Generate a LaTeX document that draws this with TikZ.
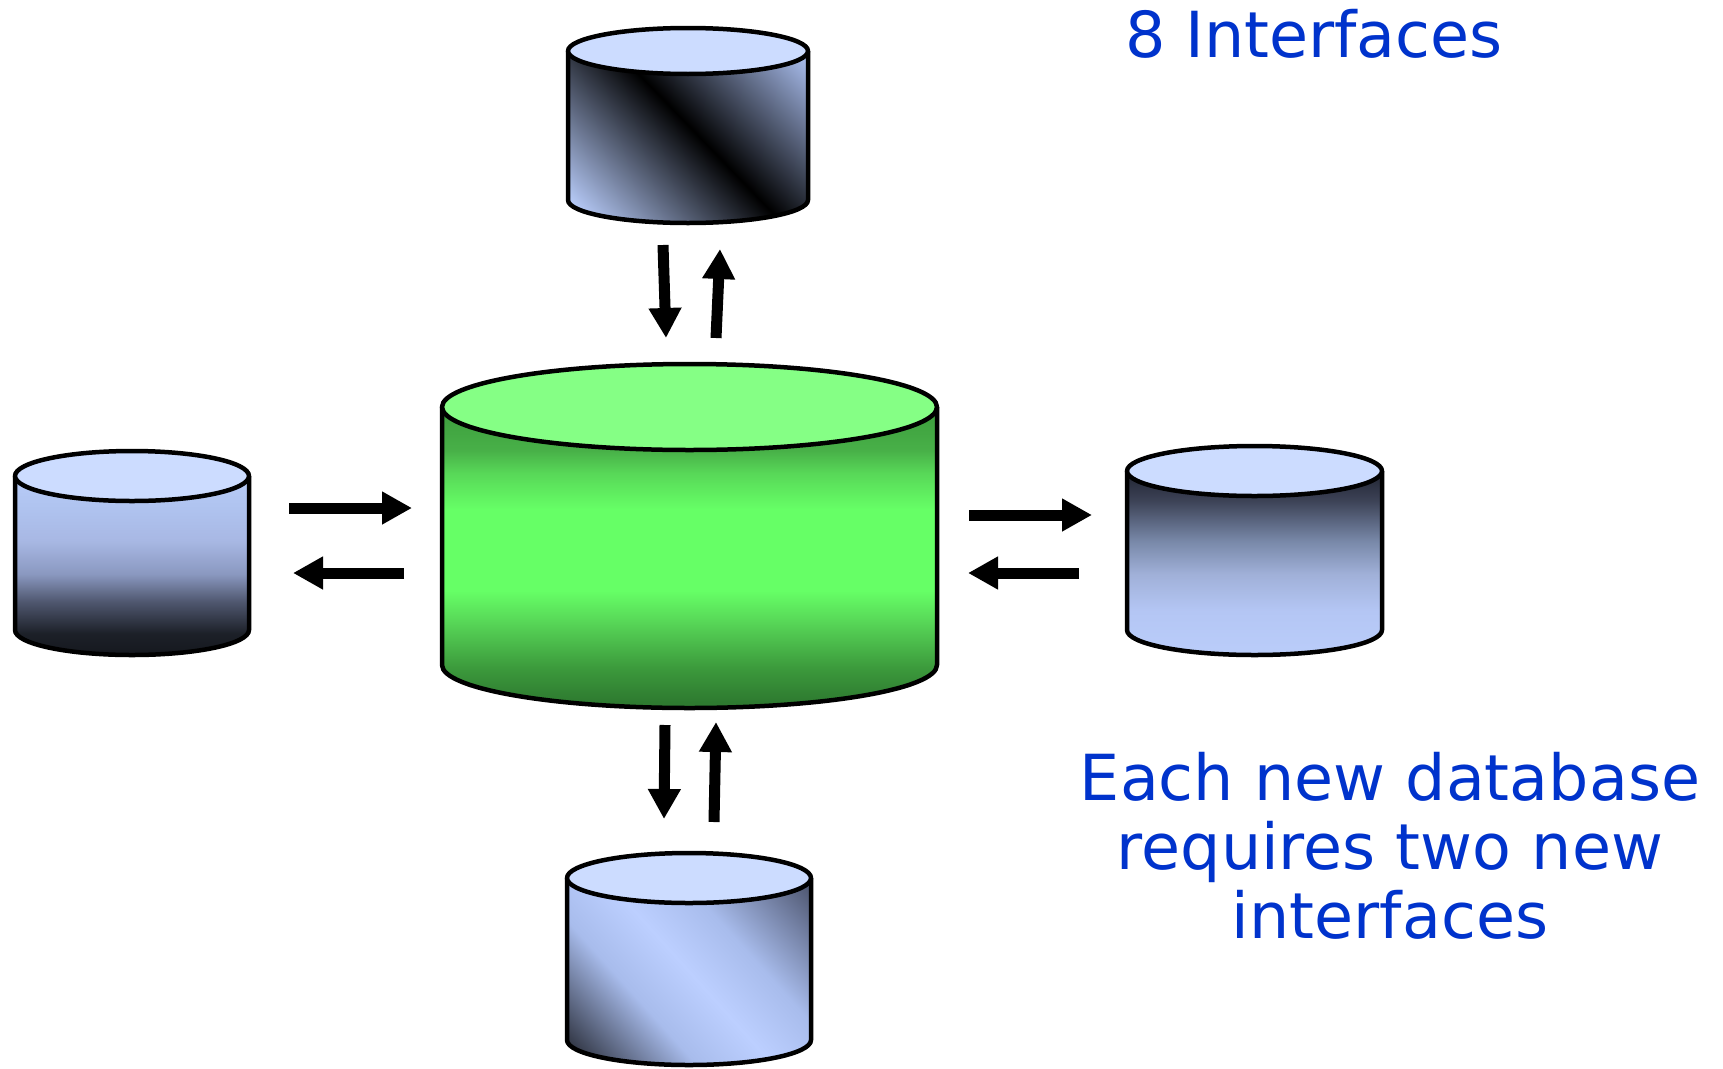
\documentclass[tikz,border=0pt]{standalone}
\usepackage{fontspec}
\setmainfont{DejaVu Sans}
\usetikzlibrary{arrows.meta}
\definecolor{txtblue}{HTML}{0033CC}
\definecolor{btop}{HTML}{CCDCFF}
\definecolor{gtop}{HTML}{85FF85}
% green body
\definecolor{ga}{HTML}{2E7A30}
\definecolor{gb}{HTML}{3C9A3C}
\definecolor{gc}{HTML}{58D858}
\definecolor{gd}{HTML}{66FF66}
\definecolor{ge}{HTML}{48B048}
\definecolor{gf}{HTML}{3C9C3C}
% blue tones
\definecolor{la}{HTML}{15181E}
\definecolor{lb}{HTML}{1C2028}
\definecolor{lc}{HTML}{505870}
\definecolor{ld}{HTML}{8A98C0}
\definecolor{le}{HTML}{A8B8E4}
\definecolor{lf}{HTML}{B0C4F0}
\definecolor{lg}{HTML}{B8CCF8}
\definecolor{ra}{HTML}{BACDFA}
\definecolor{rb}{HTML}{B4C6F4}
\definecolor{rc}{HTML}{A0B0D8}
\definecolor{rd}{HTML}{7888A8}
\definecolor{re}{HTML}{3C4256}
\definecolor{rf}{HTML}{202430}
\definecolor{tl}{HTML}{B8CCFA}
\definecolor{tr}{HTML}{A8BCEC}
\definecolor{bk}{HTML}{000000}
\definecolor{bdk}{HTML}{2A2E3A}
\definecolor{bmid}{HTML}{A8BCEC}
\definecolor{bli}{HTML}{BCCFFF}
\definecolor{btr}{HTML}{4E5670}
\pgfdeclareverticalshading{greenbody}{100bp}{color(0bp)=(ga); color(26bp)=(ga); color(31.7bp)=(gb); color(39.5bp)=(gc); color(44.5bp)=(gd); color(58bp)=(gd); color(64bp)=(gc); color(67.8bp)=(ge); color(75bp)=(gf); color(100bp)=(gf)}
\pgfdeclareverticalshading{leftbody}{100bp}{color(0bp)=(la); color(25bp)=(la); color(31bp)=(lb); color(40bp)=(lc); color(47.6bp)=(ld); color(57bp)=(le); color(67bp)=(lf); color(75bp)=(lg); color(100bp)=(lg)}
\pgfdeclareverticalshading{rightbody}{100bp}{color(0bp)=(ra); color(25bp)=(ra); color(37bp)=(rb); color(47bp)=(rc); color(56bp)=(rd); color(67bp)=(re); color(75bp)=(rf); color(100bp)=(rf)}
\pgfdeclareverticalshading{topbody}{100bp}{color(0bp)=(tl); color(18bp)=(tl); color(52bp)=(bk); color(84bp)=(tr); color(100bp)=(tr)}
\pgfdeclareverticalshading{bottombody}{100bp}{color(0bp)=(bdk); color(17bp)=(bdk); color(37bp)=(bmid); color(50bp)=(bli); color(63bp)=(bmid); color(84bp)=(btr); color(100bp)=(btr)}
% cx, top y, bottom y, rx, ry, shading, shading angle, top colour
\newcommand{\dbcyl}[8]{%
  \shade[shading=#6, shading angle=#7] (#1-#4,#2) -- (#1-#4,#3) arc[start angle=180, end angle=360, x radius=#4pt, y radius=#5pt] -- (#1+#4,#2) -- cycle;
  \draw[outl] (#1-#4,#2) -- (#1-#4,#3) arc[start angle=180, end angle=360, x radius=#4pt, y radius=#5pt] -- (#1+#4,#2);
  \draw[outl, fill=#8] (#1,#2) ellipse[x radius=#4pt, y radius=#5pt];
}
\begin{document}
\begin{tikzpicture}[x=1pt, y=-1pt,
  outl/.style={draw=black, line width=4.5pt, line join=round},
  flow/.style={line width=11pt, -{Triangle[length=30pt, width=31pt]}},
  txt/.style={text=txtblue, font=\fontsize{63.5pt}{69pt}\selectfont}]
\path[use as bounding box, fill=white] (0,0) rectangle (1723,1068);

% databases
\coordinate (central) at (689.5,536);
\coordinate (dbtop) at (688,137);
\coordinate (dbleft) at (132,564);
\coordinate (dbright) at (1254.5,562);
\coordinate (dbbottom) at (689,970);

\dbcyl{688}{51}{200}{120}{23}{topbody}{-46}{btop}
\dbcyl{132}{476}{630}{117}{25}{leftbody}{0}{btop}
\dbcyl{1254.5}{471}{630}{127.5}{25}{rightbody}{0}{btop}
\dbcyl{689}{878}{1040}{122}{25}{bottombody}{-48}{btop}
\dbcyl{689.5}{407}{665}{247.5}{43}{greenbody}{0}{gtop}

% arrow end points
\coordinate (LtA) at (289,508);  \coordinate (LtB) at (412,508);
\coordinate (LbA) at (404,573);  \coordinate (LbB) at (293,573);
\coordinate (RtA) at (969,515);  \coordinate (RtB) at (1092,515);
\coordinate (RbA) at (1079,573); \coordinate (RbB) at (968,573);
\coordinate (TdA) at (663,245);  \coordinate (TdB) at (666,338);
\coordinate (TuA) at (716,338);  \coordinate (TuB) at (720,249);
\coordinate (BdA) at (665,725);  \coordinate (BdB) at (664,819);
\coordinate (BuA) at (714,822);  \coordinate (BuB) at (716,722);

\draw[flow] (LtA) -- (LtB);
\draw[flow] (LbA) -- (LbB);
\draw[flow] (RtA) -- (RtB);
\draw[flow] (RbA) -- (RbB);
\draw[flow] (TdA) -- (TdB);
\draw[flow] (TuA) -- (TuB);
\draw[flow] (BdA) -- (BdB);
\draw[flow] (BuA) -- (BuB);

% texts
\node[txt, anchor=base, inner sep=0pt] (title) at (1314,57) {8 Interfaces};
\node[txt, align=center, anchor=north, inner sep=0pt] (note) at (1390,752) {Each new database\\requires two new\\interfaces};
\end{tikzpicture}
\end{document}
